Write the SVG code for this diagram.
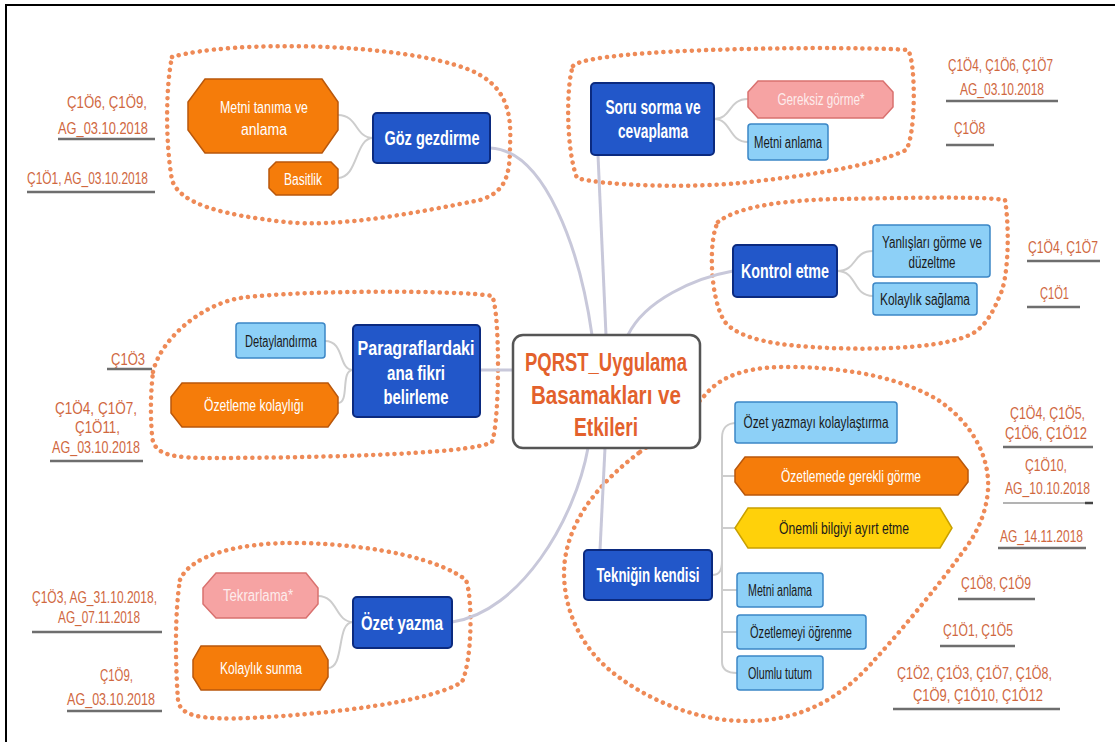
<svg xmlns="http://www.w3.org/2000/svg" width="1115" height="742" viewBox="0 0 1115 742">
<style>
text{font-family:"Liberation Sans Narrow","Liberation Sans",Arial,sans-serif;}
.cloud{fill:none;stroke:#EE8A57;stroke-width:4.5;stroke-linecap:round;stroke-dasharray:0.1 7;}
.main{fill:none;stroke:#C8C8DA;stroke-width:3;}
.sub{fill:none;stroke:#CDCDCD;stroke-width:2;}
.blue{fill:#2257C9;stroke:#0B2A7F;stroke-width:2;}
.bt{fill:#FFFFFF;font-weight:bold;font-size:20px;text-anchor:middle;}
.lb{fill:#8DD0F7;stroke:#3B86C6;stroke-width:1.5;}
.lt{fill:#1A1A1A;font-size:16px;text-anchor:middle;}
.or{fill:#F57C0A;stroke:#B9570B;stroke-width:1.5;}
.ot{fill:#FFFFFF;font-size:16px;text-anchor:middle;}
.pk{fill:#F6A3A3;stroke:#D9716F;stroke-width:1.5;}
.pt{fill:#FDECEC;font-size:16px;text-anchor:middle;}
.ye{fill:#FFD10A;stroke:#C9A000;stroke-width:1.5;}
.ct{fill:#E3612C;font-weight:bold;font-size:25px;text-anchor:middle;}
.an{fill:#D0683F;font-size:16.5px;}
.ul{stroke:#6E6E6E;stroke-width:2.5;}
</style>
<rect width="1115" height="742" fill="#FFFFFF"/>
<path d="M6,742 V5 H1115" fill="none" stroke="#000000" stroke-width="2"/>

<g id="clouds">
<path class="cloud" d="M172,57 C230,40 400,42 470,70 C505,85 512,110 510,145 C510,175 506,192 480,200 C420,212 340,228 285,222 C225,215 180,205 172,180 C165,140 166,85 172,57 Z"/>
<path class="cloud" d="M573,66 C590,47 860,46 908,50 C916,62 916,135 906,150 C868,168 795,177 740,183 C690,188 605,186 577,178 C566,150 566,85 573,66 Z"/>
<path class="cloud" d="M718,222 C740,205 790,200 840,199 C900,198 980,196 1005,200 C1010,230 1008,280 1000,295 C992,315 985,325 975,332 C950,348 880,350 830,348 C780,346 740,340 725,322 C710,300 708,240 718,222 Z"/>
<path class="cloud" d="M153,372 C160,340 200,305 240,298 C300,290 460,290 492,296 C500,310 500,420 492,442 C470,455 300,458 200,458 C165,457 153,452 152,435 C150,410 151,390 153,372 Z"/>
<path class="cloud" d="M180,580 C190,555 240,542 300,543 C380,545 440,560 466,580 C473,600 472,660 462,682 C430,702 330,714 250,718 C200,720 180,716 178,700 C175,660 175,610 180,580 Z"/>
<path class="cloud" d="M640,452 C668,432 690,412 705,395 C722,375 748,366 795,367 C855,368 905,380 938,400 C975,425 990,460 988,490 C986,515 976,535 962,553 C935,590 900,632 870,665 C838,700 800,720 750,721 C700,722 650,702 612,672 C582,648 564,612 564,572 C565,522 600,482 640,452 Z"/>
</g>

<g id="connectors">
<path class="main" d="M490,148 C545,150 580,250 592,335"/>
<path class="main" d="M598,155 L606,335"/>
<path class="main" d="M733,271 C695,278 645,300 628,335"/>
<path class="main" d="M480,370 H513"/>
<path class="main" d="M452,622 C520,612 575,520 588,448"/>
<path class="main" d="M605,448 L600,550"/>
<path class="sub" d="M373,138 C355,138 358,115 338,115 M373,138 C355,138 358,178 338,178"/>
<path class="sub" d="M714,119 C732,119 728,99 748,99 M714,119 C732,119 728,142 748,142"/>
<path class="sub" d="M837,271 C858,271 852,251 873,251 M837,271 C858,271 852,296 873,296"/>
<path class="sub" d="M353,370 C338,370 345,341 325,341 M353,370 C340,370 350,403 338,403"/>
<path class="sub" d="M353,622 C335,622 338,596 318,596 M353,622 C336,622 345,668 328,668"/>
<path class="sub" d="M712,575 C720,575 722,570 722,560 M737,423 C726,423 722,428 722,438 V662 C722,668 726,673 737,673 M722,476 H735 M722,528 H735 M722,590 H737 M722,632 H737"/>
</g>

<g id="center">
<rect x="513" y="335" width="187" height="113" rx="10" fill="#FFFFFF" stroke="#555555" stroke-width="2.5"/>
<text class="ct" x="606" y="371" textLength="162" lengthAdjust="spacingAndGlyphs">PQRST_Uygulama</text>
<text class="ct" x="606" y="404" textLength="150" lengthAdjust="spacingAndGlyphs">Basamakları ve</text>
<text class="ct" x="606" y="436" textLength="64" lengthAdjust="spacingAndGlyphs">Etkileri</text>
</g>

<g id="goz">
<rect class="blue" x="373" y="113" width="117" height="50" rx="4"/>
<text class="bt" x="432" y="145" textLength="95" lengthAdjust="spacingAndGlyphs">Göz gezdirme</text>
</g>
<g id="metni-tanima">
<polygon class="or" points="205,79 322,79 338,102 338,130 322,153 205,153 188,130 188,102"/>
<text class="ot" x="264" y="113" textLength="88" lengthAdjust="spacingAndGlyphs">Metni tanıma ve</text>
<text class="ot" x="264" y="135" textLength="46" lengthAdjust="spacingAndGlyphs">anlama</text>
</g>
<g id="basitlik">
<polygon class="or" points="276,162 331,162 338,169 338,188 331,195 276,195 269,188 269,169"/>
<text class="ot" x="303" y="185" textLength="38" lengthAdjust="spacingAndGlyphs">Basitlik</text>
</g>

<g id="soru">
<rect class="blue" x="591" y="83" width="123" height="72" rx="4"/>
<text class="bt" x="653" y="114" textLength="95" lengthAdjust="spacingAndGlyphs">Soru sorma ve</text>
<text class="bt" x="653" y="138" textLength="70" lengthAdjust="spacingAndGlyphs">cevaplama</text>
</g>
<g id="gereksiz">
<polygon class="pk" points="758,81 883,81 893,92 893,107 883,118 758,118 748,107 748,92"/>
<text class="pt" x="821" y="105" textLength="87" lengthAdjust="spacingAndGlyphs">Gereksiz görme*</text>
</g>
<g id="metni-anlama-1">
<rect class="lb" x="748" y="124" width="80" height="36" rx="3"/>
<text class="lt" x="788" y="148" textLength="68" lengthAdjust="spacingAndGlyphs">Metni anlama</text>
</g>

<g id="kontrol">
<rect class="blue" x="733" y="245" width="104" height="52" rx="4"/>
<text class="bt" x="785" y="278" textLength="88" lengthAdjust="spacingAndGlyphs">Kontrol etme</text>
</g>
<g id="yanlislari">
<rect class="lb" x="873" y="225" width="117" height="52" rx="3"/>
<text class="lt" x="932" y="248" textLength="100" lengthAdjust="spacingAndGlyphs">Yanlışları görme ve</text>
<text class="lt" x="932" y="268" textLength="47" lengthAdjust="spacingAndGlyphs">düzeltme</text>
</g>
<g id="kolaylik-saglama">
<rect class="lb" x="873" y="283" width="104" height="32" rx="3"/>
<text class="lt" x="925" y="305" textLength="90" lengthAdjust="spacingAndGlyphs">Kolaylık sağlama</text>
</g>

<g id="paragraf">
<rect class="blue" x="353" y="325" width="127" height="92" rx="4"/>
<text class="bt" x="416" y="355" textLength="117" lengthAdjust="spacingAndGlyphs">Paragraflardaki</text>
<text class="bt" x="416" y="380" textLength="58" lengthAdjust="spacingAndGlyphs">ana fikri</text>
<text class="bt" x="416" y="404" textLength="65" lengthAdjust="spacingAndGlyphs">belirleme</text>
</g>
<g id="detaylandirma">
<rect class="lb" x="236" y="323" width="89" height="35" rx="3"/>
<text class="lt" x="281" y="347" textLength="72" lengthAdjust="spacingAndGlyphs">Detaylandırma</text>
</g>
<g id="ozetleme-kolayligi">
<polygon class="or" points="182,383 328,383 338,397 338,413 328,427 182,427 171,413 171,397"/>
<text class="ot" x="254" y="411" textLength="100" lengthAdjust="spacingAndGlyphs">Özetleme kolaylığı</text>
</g>

<g id="ozet-yazma">
<rect class="blue" x="353" y="597" width="99" height="51" rx="4"/>
<text class="bt" x="402" y="630" textLength="82" lengthAdjust="spacingAndGlyphs">Özet yazma</text>
</g>
<g id="tekrarlama">
<polygon class="pk" points="216,573 306,573 318,588 318,604 306,618 216,618 203,604 203,588"/>
<text class="pt" x="258" y="601" textLength="70" lengthAdjust="spacingAndGlyphs">Tekrarlama*</text>
</g>
<g id="kolaylik-sunma">
<polygon class="or" points="201,646 320,646 328,660 328,677 320,690 201,690 193,677 193,660"/>
<text class="ot" x="261" y="674" textLength="82" lengthAdjust="spacingAndGlyphs">Kolaylık sunma</text>
</g>

<g id="teknik">
<rect class="blue" x="584" y="550" width="128" height="50" rx="4"/>
<text class="bt" x="648" y="582" textLength="103" lengthAdjust="spacingAndGlyphs">Tekniğin kendisi</text>
</g>
<g id="ozet-yazmayi">
<rect class="lb" x="735" y="402" width="162" height="41" rx="3"/>
<text class="lt" x="816" y="428" textLength="145" lengthAdjust="spacingAndGlyphs">Özet yazmayı kolaylaştırma</text>
</g>
<g id="ozetlemede">
<polygon class="or" points="745,457 958,457 968,470 968,482 958,495 745,495 735,482 735,470"/>
<text class="ot" x="851" y="482" textLength="140" lengthAdjust="spacingAndGlyphs">Özetlemede gerekli görme</text>
</g>
<g id="onemli">
<polygon class="ye" points="748,508 940,508 952,528 940,548 748,548 735,528"/>
<text class="lt" x="844" y="534" textLength="130" lengthAdjust="spacingAndGlyphs">Önemli bilgiyi ayırt etme</text>
</g>
<g id="metni-anlama-2">
<rect class="lb" x="737" y="573" width="86" height="34" rx="3"/>
<text class="lt" x="780" y="596" textLength="64" lengthAdjust="spacingAndGlyphs">Metni anlama</text>
</g>
<g id="ozetlemeyi">
<rect class="lb" x="737" y="615" width="129" height="34" rx="3"/>
<text class="lt" x="801" y="638" textLength="102" lengthAdjust="spacingAndGlyphs">Özetlemeyi öğrenme</text>
</g>
<g id="olumlu">
<rect class="lb" x="737" y="656" width="86" height="34" rx="3"/>
<text class="lt" x="780" y="679" textLength="64" lengthAdjust="spacingAndGlyphs">Olumlu tutum</text>
</g>

<g id="annotations">
<text class="an" x="67" y="108" textLength="80" lengthAdjust="spacingAndGlyphs">Ç1Ö6, Ç1Ö9,</text>
<text class="an" x="58" y="134" textLength="90" lengthAdjust="spacingAndGlyphs">AG_03.10.2018</text>
<line class="ul" x1="58" y1="139" x2="155" y2="139"/>
<text class="an" x="27" y="184" textLength="121" lengthAdjust="spacingAndGlyphs">Ç1Ö1, AG_03.10.2018</text>
<line class="ul" x1="27" y1="192" x2="155" y2="192"/>

<text class="an" x="948" y="71" textLength="105" lengthAdjust="spacingAndGlyphs">Ç1Ö4, Ç1Ö6, Ç1Ö7</text>
<text class="an" x="960" y="95" textLength="84" lengthAdjust="spacingAndGlyphs">AG_03.10.2018</text>
<line class="ul" x1="946" y1="101" x2="1058" y2="101"/>
<text class="an" x="954" y="134" textLength="31" lengthAdjust="spacingAndGlyphs">Ç1Ö8</text>
<line class="ul" x1="946" y1="145" x2="994" y2="145"/>

<text class="an" x="1028" y="253" textLength="70" lengthAdjust="spacingAndGlyphs">Ç1Ö4, Ç1Ö7</text>
<line class="ul" x1="1027" y1="261" x2="1100" y2="261"/>
<text class="an" x="1040" y="299" textLength="29" lengthAdjust="spacingAndGlyphs">Ç1Ö1</text>
<line class="ul" x1="1027" y1="307" x2="1080" y2="307"/>

<text class="an" x="111" y="365" textLength="34" lengthAdjust="spacingAndGlyphs">Ç1Ö3</text>
<line class="ul" x1="107" y1="369" x2="152" y2="369"/>
<text class="an" x="55" y="414" textLength="82" lengthAdjust="spacingAndGlyphs">Ç1Ö4, Ç1Ö7,</text>
<text class="an" x="75" y="433" textLength="45" lengthAdjust="spacingAndGlyphs">Ç1Ö11,</text>
<text class="an" x="52" y="453" textLength="88" lengthAdjust="spacingAndGlyphs">AG_03.10.2018</text>
<line class="ul" x1="50" y1="461" x2="143" y2="461"/>

<text class="an" x="32" y="603" textLength="125" lengthAdjust="spacingAndGlyphs">Ç1Ö3, AG_31.10.2018,</text>
<text class="an" x="58" y="623" textLength="82" lengthAdjust="spacingAndGlyphs">AG_07.11.2018</text>
<line class="ul" x1="32" y1="632" x2="162" y2="632"/>
<text class="an" x="100" y="681" textLength="33" lengthAdjust="spacingAndGlyphs">Ç1Ö9,</text>
<text class="an" x="67" y="705" textLength="88" lengthAdjust="spacingAndGlyphs">AG_03.10.2018</text>
<line class="ul" x1="67" y1="711" x2="162" y2="711"/>

<text class="an" x="1010" y="419" textLength="75" lengthAdjust="spacingAndGlyphs">Ç1Ö4, Ç1Ö5,</text>
<text class="an" x="1005" y="439" textLength="82" lengthAdjust="spacingAndGlyphs">Ç1Ö6, Ç1Ö12</text>
<line class="ul" x1="1003" y1="447" x2="1093" y2="447"/>
<text class="an" x="1025" y="471" textLength="42" lengthAdjust="spacingAndGlyphs">Ç1Ö10,</text>
<text class="an" x="1005" y="494" textLength="85" lengthAdjust="spacingAndGlyphs">AG_10.10.2018</text>
<line x1="1003" y1="503" x2="1093" y2="503" stroke="#9A9A9A" stroke-width="1.5"/>
<line x1="1085" y1="503" x2="1093" y2="503" stroke="#444444" stroke-width="2.5"/>
<text class="an" x="1000" y="542" textLength="83" lengthAdjust="spacingAndGlyphs">AG_14.11.2018</text>
<line class="ul" x1="998" y1="548" x2="1086" y2="548"/>
<text class="an" x="961" y="589" textLength="70" lengthAdjust="spacingAndGlyphs">Ç1Ö8, Ç1Ö9</text>
<line class="ul" x1="958" y1="599" x2="1035" y2="599"/>
<text class="an" x="943" y="636" textLength="70" lengthAdjust="spacingAndGlyphs">Ç1Ö1, Ç1Ö5</text>
<line class="ul" x1="940" y1="646" x2="1015" y2="646"/>
<text class="an" x="897" y="679" textLength="155" lengthAdjust="spacingAndGlyphs">Ç1Ö2, Ç1Ö3, Ç1Ö7, Ç1Ö8,</text>
<text class="an" x="913" y="701" textLength="130" lengthAdjust="spacingAndGlyphs">Ç1Ö9, Ç1Ö10, Ç1Ö12</text>
<line class="ul" x1="893" y1="709" x2="1060" y2="709"/>
</g>
</svg>
